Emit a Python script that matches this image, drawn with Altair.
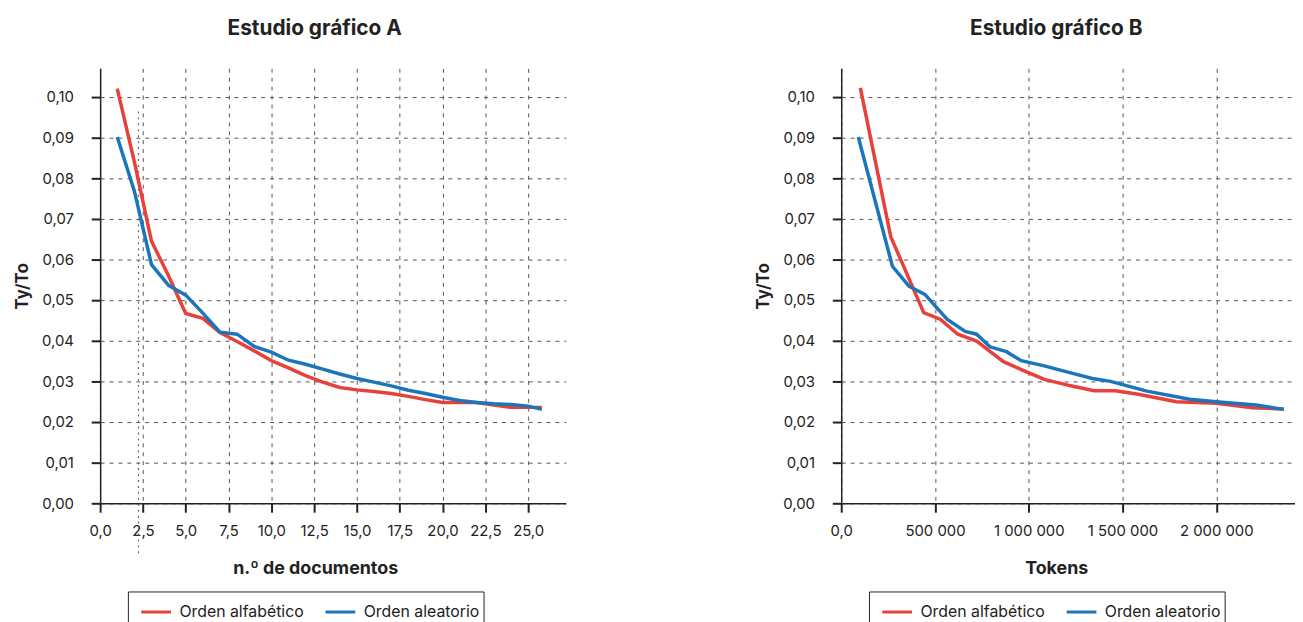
import altair as alt
import pandas as pd

series_names = ["Orden alfabético", "Orden aleatorio"]
series_colors = ["#e8403a", "#1b75bb"]

# Estudio gráfico A: n.º de documentos vs Ty/To
docs = [1, 2, 3, 4, 5, 6, 7, 8, 9, 10, 11, 12, 13, 14, 15, 16, 17, 18, 19, 20,
        21, 22, 23, 24, 25, 25.8]
a_alfabetico = [0.1020, 0.0840, 0.0645, 0.0559, 0.0467, 0.0455, 0.0420, 0.0398,
                0.0375, 0.0351, 0.0333, 0.0314, 0.0298, 0.0285, 0.0279, 0.0275,
                0.0270, 0.0263, 0.0255, 0.0248, 0.0248, 0.0248, 0.0242, 0.0236,
                0.0236, 0.0236]
a_aleatorio = [0.0901, 0.0768, 0.0587, 0.0536, 0.0512, 0.0468, 0.0421, 0.0416,
               0.0386, 0.0372, 0.0352, 0.0342, 0.0330, 0.0318, 0.0307, 0.0298,
               0.0289, 0.0278, 0.0270, 0.0261, 0.0253, 0.0248, 0.0245, 0.0243,
               0.0239, 0.0231]

# Estudio gráfico B: Tokens vs Ty/To
b_tokens_alfabetico = [102000, 264000, 440000, 528000, 622000, 722000, 863000,
                       960000, 1083000, 1224000, 1348000, 1462000, 1577000,
                       1788000, 2000000, 2193000, 2360000]
b_alfabetico = [0.1022, 0.0656, 0.0469, 0.0453, 0.0416, 0.0399, 0.0349, 0.0329,
                0.0305, 0.0289, 0.0277, 0.0277, 0.0269, 0.0250, 0.0246, 0.0235,
                0.0232]
b_tokens_aleatorio = [91000, 273000, 361000, 446000, 564000, 661000, 722000,
                      793000, 881000, 960000, 1083000, 1224000, 1339000, 1436000,
                      1630000, 1858000, 2000000, 2211000, 2360000]
b_aleatorio = [0.0901, 0.0583, 0.0534, 0.0514, 0.0453, 0.0423, 0.0416, 0.0385,
               0.0373, 0.0351, 0.0338, 0.0321, 0.0307, 0.0300, 0.0276, 0.0256,
               0.0250, 0.0242, 0.0231]

# stray dotted vertical guide seen in panel A
guide_x = [2.24]
guide_y_top = [0.0964]
guide_y_bottom = [-0.0124]

y_ticks = [0.0, 0.01, 0.02, 0.03, 0.04, 0.05, 0.06, 0.07, 0.08, 0.09, 0.10]
a_x_ticks = [0, 2.5, 5, 7.5, 10, 12.5, 15, 17.5, 20, 22.5, 25]
b_x_ticks = [0, 500000, 1000000, 1500000, 2000000]

FONT = "Inter"
INK = "#222222"

df_a = pd.DataFrame({
    "x": docs + docs,
    "ratio": a_alfabetico + a_aleatorio,
    "serie": [series_names[0]] * len(docs) + [series_names[1]] * len(docs),
})
df_b = pd.DataFrame({
    "x": b_tokens_alfabetico + b_tokens_aleatorio,
    "ratio": b_alfabetico + b_aleatorio,
    "serie": [series_names[0]] * len(b_tokens_alfabetico)
    + [series_names[1]] * len(b_tokens_aleatorio),
})
df_guide = pd.DataFrame({"x": guide_x, "y": guide_y_top, "y2": guide_y_bottom})

y_axis = alt.Axis(
    values=y_ticks,
    labelExpr="replace(format(datum.value, '.2f'), '.', ',')",
    title="Ty/To",
    titleFont=FONT, titleFontSize=17, titleFontWeight="bold", titleColor=INK,
    titlePadding=10,
    labelFont=FONT, labelFontSize=15, labelColor=INK, labelPadding=18,
    tickSize=9, tickWidth=2, tickColor=INK,
    domainColor=INK, domainWidth=1.5,
    grid=True, gridDash=[4, 5], gridColor="#555555", gridWidth=1,
)


def x_axis(title, values, expr):
    return alt.Axis(
        values=values, labelExpr=expr, title=title,
        titleFont=FONT, titleFontSize=18, titleFontWeight="bold", titleColor=INK,
        titlePadding=21, titleX=217,
        labelFont=FONT, labelFontSize=15, labelColor=INK, labelPadding=12,
        labelFlush=False, labelOverlap=False,
        tickSize=9, tickWidth=2, tickColor=INK,
        domainColor=INK, domainWidth=1.5,
        grid=True, gridDash=[4, 5], gridColor="#555555", gridWidth=1,
    )


legend = alt.Legend(
    title=None, orient="none", legendX=28, legendY=528, direction="horizontal",
    strokeColor=INK, padding=4, fillColor="white",
    symbolType="stroke", symbolSize=900, symbolStrokeWidth=3, symbolOffset=8,
    labelFont=FONT, labelFontSize=16, labelColor=INK, labelOffset=7,
    columnPadding=12,
)


def panel(df, x_title, x_domain, x_values, x_expr, width, title, title_dx, guide=None):
    lines = alt.Chart(df).mark_line(strokeWidth=3.5, clip=False).encode(
        x=alt.X("x:Q", scale=alt.Scale(domain=x_domain, nice=False, zero=False),
                axis=x_axis(x_title, x_values, x_expr)),
        y=alt.Y("ratio:Q", scale=alt.Scale(domain=[0, 0.107], nice=False), axis=y_axis),
        color=alt.Color("serie:N",
                        scale=alt.Scale(domain=series_names, range=series_colors),
                        legend=legend),
    )
    layers = []
    if guide is not None:
        layers.append(
            alt.Chart(guide).mark_rule(color="#666666", strokeDash=[2, 4],
                                       strokeWidth=1.2, clip=False).encode(
                x="x:Q", y="y:Q", y2="y2:Q")
        )
    layers.append(lines)
    return alt.layer(*layers).properties(
        width=width, height=439,
        title=alt.TitleParams(title, font=FONT, fontSize=21, fontWeight="bold",
                              color=INK, anchor="middle", dx=title_dx, offset=30),
    )


chart_a = panel(df_a, "n.º de documentos", [0, 27.2], a_x_ticks,
                "replace(format(datum.value, '.1f'), '.', ',')", 470,
                "Estudio gráfico A", -18.5, guide=df_guide)
chart_b = panel(df_b, "Tokens", [0, 2420000], b_x_ticks,
                "datum.value == 0 ? '0,0' : replace(replace(format(datum.value, ','), ',', ' '), ',', ' ')",
                458, "Estudio gráfico B", -12)

chart = alt.hconcat(chart_a, chart_b, spacing=190).resolve_scale(
    color="independent").resolve_legend(color="independent").properties(
    padding={"left": 5, "top": 7, "right": 0, "bottom": 5}
).configure_view(stroke=None)

chart.save("out.html", embed_options={"renderer": "svg", "actions": False})
